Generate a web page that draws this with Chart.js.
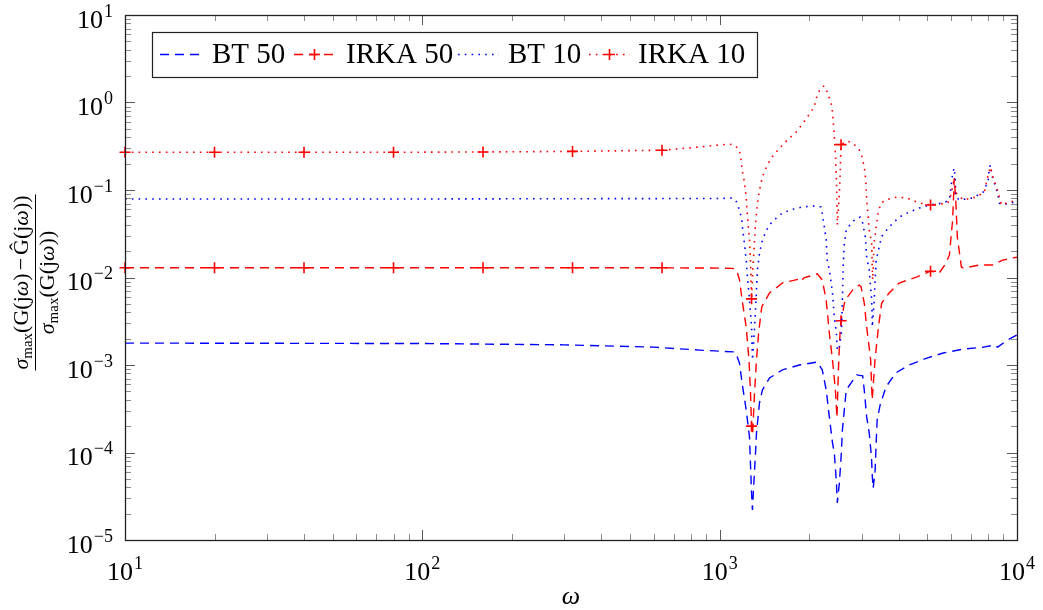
<!DOCTYPE html>
<html>
<head>
<meta charset="utf-8">
<script src="https://cdn.jsdelivr.net/npm/chart.js@4.4.1/dist/chart.umd.min.js"></script>
<style>
  html, body { margin: 0; padding: 0; background: #fff; }
</style>
</head>
<body>
<canvas id="chart" width="1043" height="610"></canvas>
<script>
// frequencies (omega) and relative errors
const bt50Omega = [10, 100, 300, 600, 855, 1122, 1140, 1166, 1190, 1228, 1260, 1280, 1289, 1299, 1320, 1330, 1361, 1393, 1471, 1626, 1855, 2129, 2213, 2282, 2338, 2396, 2430, 2470, 2487, 2527, 2566, 2587, 2665, 2890, 3027, 3064, 3122, 3184, 3240, 3262, 3283, 3334, 3360, 3386, 3465, 3624, 3907, 4341, 4981, 5648, 6599, 7712, 8390, 8610, 9290, 10000];
const bt50Err = [1.78e-3, 1.76e-3, 1.7e-3, 1.6e-3, 1.48e-3, 1.41e-3, 1.3e-3, 1.05e-3, 6.2e-4, 3.06e-4, 1.5e-4, 3.45e-5, 2.2e-5, 3.7e-5, 9.9e-5, 1.67e-4, 3.68e-4, 5.2e-4, 7.1e-4, 8.8e-4, 1.0e-3, 1.08e-3, 8.8e-4, 5.2e-4, 2.55e-4, 1.29e-4, 9.9e-5, 4.5e-5, 2.65e-5, 4.5e-5, 9.9e-5, 1.81e-4, 5.2e-4, 7.7e-4, 7.5e-4, 5.2e-4, 2.55e-4, 1.67e-4, 8.9e-5, 5.25e-5, 3.9e-5, 6.3e-5, 1.29e-4, 2.35e-4, 3.5e-4, 5.6e-4, 8.1e-4, 1.0e-3, 1.2e-3, 1.37e-3, 1.52e-3, 1.6e-3, 1.69e-3, 1.6e-3, 1.93e-3, 2.2e-3];

const irka50Omega = [10, 20, 40, 80, 160, 320, 640, 1000, 1105, 1140, 1166, 1190, 1228, 1255, 1270, 1280, 1290, 1310, 1330, 1352, 1385, 1471, 1626, 1855, 1880, 1920, 2129, 2213, 2282, 2338, 2396, 2450, 2480, 2515, 2540, 2560, 2640, 2836, 2948, 2990, 3064, 3122, 3220, 3258, 3330, 3420, 3506, 3715, 4013, 4590, 5120, 5480, 5780, 5924, 6075, 6152, 6230, 6300, 6500, 6599, 7470, 8260, 8940, 10000];
const irka50Err = [0.0129, 0.0129, 0.0129, 0.0129, 0.0129, 0.0129, 0.0129, 0.0128, 0.0127, 0.0122, 0.0094, 0.0055, 2.72e-3, 1.14e-3, 4.8e-4, 2.0e-4, 1.6e-4, 4.8e-4, 1.14e-3, 2.32e-3, 4.6e-3, 6.65e-3, 8.65e-3, 9.6e-3, 9.1e-3, 9.9e-3, 0.011, 9.4e-3, 5.5e-3, 2.32e-3, 1.14e-3, 5.2e-4, 2.5e-4, 1.14e-3, 2.32e-3, 3.2e-3, 5.5e-3, 7.6e-3, 8.2e-3, 7.8e-3, 5.1e-3, 2.72e-3, 1.14e-3, 4.0e-4, 1.14e-3, 2.72e-3, 5.1e-3, 6.65e-3, 8.65e-3, 0.0101, 0.0118, 0.0113, 0.0147, 0.0181, 0.0454, 0.137, 0.071, 0.029, 0.0132, 0.0128, 0.0139, 0.0139, 0.0158, 0.0171];

const bt10Omega = [10, 100, 1000, 1105, 1140, 1156, 1185, 1195, 1213, 1228, 1240, 1260, 1280, 1290, 1309, 1330, 1340, 1361, 1393, 1437, 1491, 1589, 1717, 1900, 2083, 2190, 2213, 2249, 2282, 2300, 2338, 2396, 2430, 2470, 2487, 2520, 2566, 2587, 2600, 2620, 2665, 2770, 2890, 2970, 3027, 3090, 3122, 3184, 3246, 3262, 3309, 3360, 3439, 3506, 3715, 4013, 4341, 4693, 5071, 5648, 5924, 6000, 6075, 6152, 6190, 6230, 6400, 7090, 7712, 8000, 8070, 8140, 8260, 8610, 8720, 8940, 9680, 10000];
const bt10Err = [0.079, 0.079, 0.08, 0.081, 0.073, 0.064, 0.0478, 0.0349, 0.0235, 0.0158, 0.0101, 0.00553, 2.72e-3, 1.14e-3, 2.51e-3, 7.2e-3, 0.0122, 0.019, 0.0268, 0.0349, 0.042, 0.0518, 0.059, 0.064, 0.0657, 0.064, 0.0546, 0.0378, 0.0268, 0.0158, 0.0122, 6.65e-3, 3.54e-3, 2.32e-3, 1.48e-3, 1.5e-3, 2.32e-3, 5.5e-3, 0.0122, 0.0226, 0.0349, 0.0419, 0.0478, 0.049, 0.0419, 0.029, 0.0171, 0.0122, 5.5e-3, 2.72e-3, 5.5e-3, 0.0158, 0.0223, 0.0295, 0.0378, 0.049, 0.056, 0.0622, 0.0674, 0.071, 0.0769, 0.108, 0.156, 0.178, 0.141, 0.083, 0.0769, 0.081, 0.095, 0.13, 0.178, 0.193, 0.141, 0.0925, 0.071, 0.0674, 0.072, 0.0769];

const irka10Omega = [10, 20, 40, 80, 160, 320, 640, 855, 1000, 1080, 1120, 1166, 1180, 1190, 1213, 1228, 1240, 1260, 1270, 1280, 1292, 1309, 1320, 1340, 1361, 1393, 1437, 1491, 1589, 1690, 1810, 1940, 2080, 2129, 2190, 2249, 2300, 2370, 2396, 2413, 2430, 2450, 2470, 2478, 2487, 2507, 2527, 2540, 2560, 2685, 2795, 2925, 2990, 3064, 3100, 3122, 3150, 3184, 3246, 3258, 3270, 3309, 3360, 3410, 3489, 3624, 3800, 3960, 4260, 4693, 5120, 5480, 5850, 6000, 6152, 6230, 6599, 7300, 7770, 7950, 8140, 8260, 8650, 8870, 9290, 9680, 10000];
const irka10Err = [0.27, 0.27, 0.27, 0.27, 0.272, 0.276, 0.285, 0.31, 0.327, 0.334, 0.327, 0.287, 0.22, 0.169, 0.12, 0.083, 0.0498, 0.0268, 0.015, 0.0057, 0.0122, 0.0248, 0.0419, 0.071, 0.1, 0.141, 0.183, 0.232, 0.3, 0.373, 0.46, 0.63, 0.89, 1.22, 1.47, 1.55, 1.32, 0.986, 0.778, 0.583, 0.403, 0.263, 0.13, 0.077, 0.0398, 0.059, 0.093, 0.14, 0.33, 0.363, 0.345, 0.3, 0.263, 0.183, 0.13, 0.077, 0.0546, 0.0349, 0.0249, 0.0139, 0.0094, 0.0249, 0.0378, 0.0546, 0.071, 0.077, 0.081, 0.083, 0.081, 0.071, 0.0674, 0.069, 0.071, 0.088, 0.137, 0.093, 0.077, 0.083, 0.095, 0.137, 0.183, 0.148, 0.093, 0.0674, 0.072, 0.0745, 0.077];

// omegas where the IRKA curves carry a "+" mark
const markerOmega = [10, 20, 40, 80, 160, 320, 640, 1280, 2560, 5120];

const seriesLabels = ['BT 50', 'IRKA 50', 'BT 10', 'IRKA 10'];
const xTickExps = [1, 2, 3, 4];
const yTickExps = [1, 0, -1, -2, -3, -4, -5];

const serif = '"Liberation Serif", "DejaVu Serif", serif';
const blue = 'rgb(0,0,255)';
const red = 'rgb(255,0,0)';
const dashed = [9, 6];
const dotted = [1.6, 5.2];

const toPoints = (xs, ys) => xs.map((x, i) => ({ x, y: ys[i] }));
const markRadius = (c) => (c.raw && markerOmega.includes(c.raw.x) ? 5.5 : 0);

function lineSet(label, xs, ys, color, dash, marks, order) {
  return {
    label,
    data: toPoints(xs, ys),
    showLine: true,
    borderColor: color,
    backgroundColor: color,
    borderWidth: dash === dotted ? 1.6 : 1.4,
    borderDash: dash,
    pointStyle: 'cross',
    pointRadius: marks ? markRadius : 0,
    pointBorderColor: color,
    pointBorderWidth: 1.6,
    pointHoverRadius: 0,
    clip: 8,
    order,
  };
}

// superscripted power label, e.g. 10^-3
function drawPow(ctx, exp, x, y, align) {
  ctx.font = `26px ${serif}`;
  const wb = ctx.measureText('10').width;
  ctx.font = `18px ${serif}`;
  const we = ctx.measureText(exp).width;
  const w = wb + 1 + we;
  const x0 = align === 'right' ? x - w : x - w / 2;
  ctx.textAlign = 'left';
  ctx.textBaseline = 'alphabetic';
  ctx.font = `26px ${serif}`;
  ctx.fillText('10', x0, y);
  ctx.font = `18px ${serif}`;
  ctx.fillText(exp, x0 + wb + 1, y - 11);
}

function richWidth(ctx, segs) {
  let w = 0;
  for (const s of segs) {
    ctx.font = s.f;
    w += ctx.measureText(s.t).width + 2 * (s.pad || 0);
  }
  return w;
}

function drawRich(ctx, segs, x, y) {
  for (const s of segs) {
    ctx.font = s.f;
    x += s.pad || 0;
    ctx.fillText(s.t, x, y + (s.dy || 0));
    x += ctx.measureText(s.t).width + (s.pad || 0);
  }
}

const expText = (e) => (e < 0 ? '\u2212' + (-e) : String(e));

const axesPlugin = {
  id: 'pgfAxes',
  beforeDatasetsDraw(chart) {
    const { ctx, chartArea: a } = chart;
    const xs = chart.scales.x, ys = chart.scales.y;
    ctx.save();
    // minor and major ticks, inward on all four sides
    const tick = (major) => {
      ctx.strokeStyle = major ? 'rgba(0,0,0,0.65)' : 'rgba(0,0,0,0.45)';
      ctx.lineWidth = 1;
      return major ? 10 : 6;
    };
    for (let e = 1; e <= 4; e++) {
      for (let m = 1; m <= 9; m++) {
        const v = m * Math.pow(10, e);
        if (v > 1e4) break;
        const len = tick(m === 1);
        const px = Math.round(xs.getPixelForValue(v)) + 0.5;
        ctx.beginPath();
        ctx.moveTo(px, a.bottom); ctx.lineTo(px, a.bottom - len);
        ctx.moveTo(px, a.top); ctx.lineTo(px, a.top + len);
        ctx.stroke();
      }
    }
    for (let e = -5; e <= 1; e++) {
      for (let m = 1; m <= 9; m++) {
        const v = m * Math.pow(10, e);
        if (v > 10.0001) break;
        const len = tick(m === 1);
        const py = Math.round(ys.getPixelForValue(v)) + 0.5;
        ctx.beginPath();
        ctx.moveTo(a.left, py); ctx.lineTo(a.left + len, py);
        ctx.moveTo(a.right, py); ctx.lineTo(a.right - len, py);
        ctx.stroke();
      }
    }
    ctx.restore();
  },
  afterDatasetsDraw(chart) {
    const { ctx, chartArea: a } = chart;
    const xs = chart.scales.x, ys = chart.scales.y;
    ctx.save();
    // frame
    ctx.strokeStyle = '#222';
    ctx.lineWidth = 1.3;
    ctx.strokeRect(a.left + 0.5, a.top + 0.5, a.right - a.left, a.bottom - a.top);

    // tick labels
    ctx.fillStyle = '#000';
    xTickExps.forEach((e) => drawPow(ctx, expText(e), xs.getPixelForValue(Math.pow(10, e)), a.bottom + 40, 'center'));
    yTickExps.forEach((e) => drawPow(ctx, expText(e), 113, ys.getPixelForValue(Math.pow(10, e)) + 12.5, 'right'));

    // x title
    ctx.font = `italic 26px ${serif}`;
    ctx.textAlign = 'center';
    ctx.fillText('\u03c9', (a.left + a.right) / 2, 604);

    // y title: fraction, rotated
    const rm = `22px ${serif}`, it = `italic 22px ${serif}`, sub = `15px ${serif}`;
    const num = [
      { t: '\u03c3', f: it }, { t: 'max', f: sub, dy: 4 },
      { t: '(G(j', f: rm }, { t: '\u03c9', f: it }, { t: ')', f: rm },
      { t: '\u2212', f: rm, pad: 3 },
      { t: '\u011c(j', f: rm }, { t: '\u03c9', f: it }, { t: '))', f: rm },
    ];
    const den = [
      { t: '\u03c3', f: it }, { t: 'max', f: sub, dy: 4 },
      { t: '(G(j', f: rm }, { t: '\u03c9', f: it }, { t: '))', f: rm },
    ];
    ctx.translate(35, (a.top + a.bottom) / 2 + 5);
    ctx.rotate(-Math.PI / 2);
    ctx.textAlign = 'left';
    const wn = richWidth(ctx, num), wd = richWidth(ctx, den);
    drawRich(ctx, num, -wn / 2, -7);
    drawRich(ctx, den, -wd / 2, 19);
    ctx.strokeStyle = '#000';
    ctx.lineWidth = 1;
    ctx.beginPath();
    ctx.moveTo(-wn / 2 - 1, 0.5); ctx.lineTo(wn / 2 + 1, 0.5);
    ctx.stroke();
    ctx.restore();

    // legend box
    ctx.save();
    const box = { x: 152, y: 32, w: 605, h: 45 };
    ctx.fillStyle = '#fff';
    ctx.fillRect(box.x, box.y, box.w, box.h);
    ctx.strokeStyle = '#222';
    ctx.lineWidth = 1.2;
    ctx.strokeRect(box.x + 0.5, box.y + 0.5, box.w, box.h);
    const sampleX = [160, 294, 458, 589];
    const textX = [212, 346, 508, 638];
    const cy = 54.5;
    chart.data.datasets.forEach((ds, i) => {
      ctx.strokeStyle = ds.borderColor;
      ctx.lineWidth = ds.borderWidth;
      ctx.setLineDash(ds.borderDash);
      ctx.beginPath();
      ctx.moveTo(sampleX[i], cy); ctx.lineTo(sampleX[i] + 41, cy);
      ctx.stroke();
      ctx.setLineDash([]);
      if (ds.pointRadius !== 0) {
        const mx = sampleX[i] + 20.5;
        ctx.lineWidth = 1.6;
        ctx.beginPath();
        ctx.moveTo(mx - 5.5, cy); ctx.lineTo(mx + 5.5, cy);
        ctx.moveTo(mx, cy - 5.5); ctx.lineTo(mx, cy + 5.5);
        ctx.stroke();
      }
      ctx.fillStyle = '#000';
      ctx.font = `29px ${serif}`;
      ctx.textAlign = 'left';
      ctx.textBaseline = 'alphabetic';
      ctx.fillText(seriesLabels[i], textX[i], 63);
    });
    ctx.restore();
  },
};

new Chart(document.getElementById('chart').getContext('2d'), {
  type: 'scatter',
  data: {
    datasets: [
      lineSet(seriesLabels[0], bt50Omega, bt50Err, blue, dashed, false, 4),
      lineSet(seriesLabels[1], irka50Omega, irka50Err, red, dashed, true, 3),
      lineSet(seriesLabels[2], bt10Omega, bt10Err, blue, dotted, false, 2),
      lineSet(seriesLabels[3], irka10Omega, irka10Err, red, dotted, true, 1),
    ],
  },
  options: {
    responsive: false,
    animation: false,
    devicePixelRatio: 1,
    layout: { padding: { top: 15, right: 26, left: 0, bottom: 0 } },
    plugins: {
      legend: { display: false },
      tooltip: { enabled: false },
    },
    events: [],
    scales: {
      x: {
        type: 'logarithmic',
        min: 10,
        max: 10000,
        grid: { display: false },
        border: { display: false },
        ticks: { display: false },
        afterFit: (s) => { s.height = 70; },
      },
      y: {
        type: 'logarithmic',
        min: 1e-5,
        max: 10,
        grid: { display: false },
        border: { display: false },
        ticks: { display: false },
        afterFit: (s) => { s.width = 125; },
      },
    },
  },
  plugins: [axesPlugin],
});
</script>
</body>
</html>
